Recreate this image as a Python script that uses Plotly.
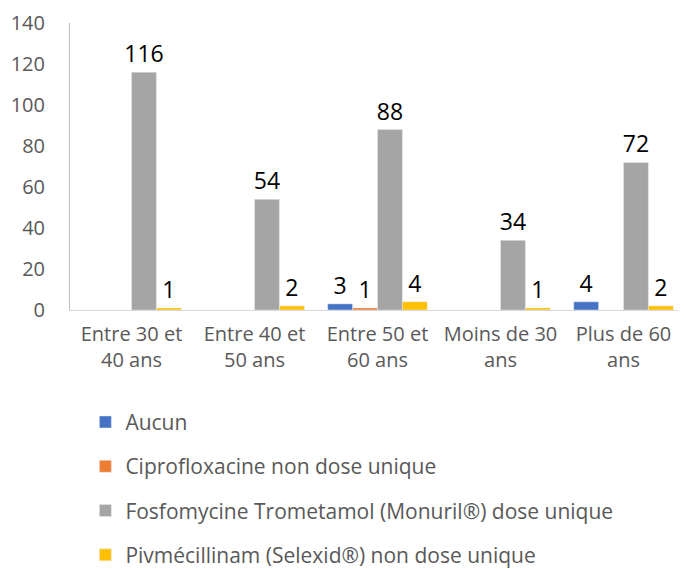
import plotly.graph_objects as go

categories = ["Entre 30 et<br>40 ans", "Entre 40 et<br>50 ans", "Entre 50 et<br>60 ans",
              "Moins de 30<br>ans", "Plus de 60<br>ans"]
aucun = [None, None, 3, None, 4]
cipro = [None, None, 1, None, None]
fosfo = [116, 54, 88, 34, 72]
pivme = [1, 2, 4, 1, 2]

series = [
    ("Aucun", aucun, "#4472c4"),
    ("Ciprofloxacine non dose unique", cipro, "#ed7d31"),
    ("Fosfomycine Trometamol (Monuril®) dose unique", fosfo, "#a5a5a5"),
    ("Pivmécillinam (Selexid®) non dose unique", pivme, "#ffc000"),
]

fig = go.Figure()
for i, (name, vals, col) in enumerate(series):
    fig.add_trace(go.Bar(
        x=categories, y=vals, name=name, marker_color=col,
        text=[str(v) if v is not None else "" for v in vals],
        textposition="outside", cliponaxis=False, constraintext="none",
        textfont=dict(family="Open Sans, sans-serif", size=23, color="black"),
        legendgroup=str(i),
    ))

# page body has an 8px margin, so the figure is sized 8px smaller
fig.update_layout(
    width=678, height=561,
    barmode="group", bargap=0.19, bargroupgap=0,
    plot_bgcolor="white", paper_bgcolor="white",
    font=dict(family="Open Sans, sans-serif", size=20, color="#595959"),
    margin=dict(l=62, r=1, t=15, b=259, autoexpand=False),
    showlegend=True,
    legend=dict(
        orientation="v", x=0.025, xanchor="left",
        yref="container", y=0.298, yanchor="top",
        traceorder="grouped", tracegroupgap=14,
        font=dict(family="Open Sans, sans-serif", size=21, color="#595959"),
    ),
)
fig.update_yaxes(range=[0, 140], dtick=20, showgrid=False, zeroline=False,
                 showline=True, linecolor="#bfbfbf", linewidth=1, automargin=False,
                 tickfont=dict(size=20, color="#595959"), ticks="",
                 ticklabelstandoff=20, ticklabeloverflow="allow")
fig.update_xaxes(showline=True, linecolor="#d9d9d9", linewidth=1, ticks="",
                 automargin=False, ticklabelstandoff=6, ticklabeloverflow="allow",
                 tickfont=dict(size=20, color="#595959"))

fig.write_html("out.html")
